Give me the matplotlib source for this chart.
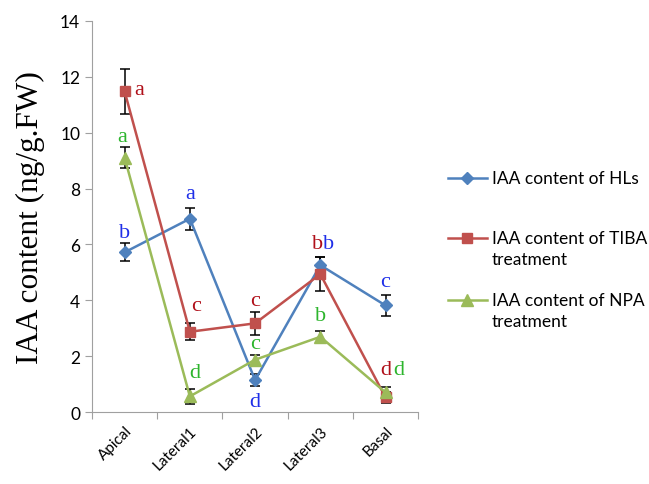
import matplotlib
matplotlib.use('Agg')
import matplotlib.pyplot as plt
from matplotlib.lines import Line2D

positions = ['Apical', 'Lateral1', 'Lateral2', 'Lateral3', 'Basal']

hls = [5.72, 6.92, 1.15, 5.26, 3.82]
hls_err = [0.32, 0.40, 0.22, 0.30, 0.39]
hls_letters = ['b', 'a', 'd', 'b', 'c']

tiba = [11.47, 2.88, 3.18, 4.94, 0.53]
tiba_err = [0.80, 0.30, 0.40, 0.60, 0.20]
tiba_letters = ['a', 'c', 'c', 'b', 'd']

npa = [9.10, 0.57, 1.88, 2.70, 0.71]
npa_err = [0.38, 0.27, 0.18, 0.20, 0.20]
npa_letters = ['a', 'd', 'c', 'b', 'd']

legend_labels = ['IAA content of HLs',
                 'IAA content of TIBA\ntreatment',
                 'IAA content of NPA\ntreatment']

# letter offsets in pixels (x, y) from the point
hls_off = [(0, 20), (0, 25), (0, -21), (8, 22), (0, 24)]
tiba_off = [(15, 2), (6, 26), (0, 23), (-3, 31), (0, 28)]
npa_off = [(-2, 21), (5, 24), (0, 16), (0, 21), (13, 23)]

fig = plt.figure(figsize=(6.49, 4.85), dpi=100)
ax = fig.add_axes([0.1418, 0.1478, 0.5025, 0.8075])

x = list(range(len(positions)))

series = [
    (hls, hls_err, hls_letters, hls_off, '#4F81BD', 'D', 6.5, '#1F2FE8'),
    (tiba, tiba_err, tiba_letters, tiba_off, '#C0504D', 's', 7.5, '#B0101A'),
    (npa, npa_err, npa_letters, npa_off, '#9BBB59', '^', 8, '#2DB52D'),
]

# legend rows: y of first text line, in pixels from the top
legend_rows = [179, 239, 301]

for (vals, err, letters, offs, col, mk, ms, tcol), lab, ry in zip(series, legend_labels, legend_rows):
    ax.errorbar(x, vals, yerr=err, fmt='none', ecolor='black', elinewidth=1.1,
                capsize=3.5, capthick=1.1, zorder=2)
    ax.plot(x, vals, color=col, marker=mk, markersize=ms, linewidth=1.8, zorder=3)
    for xi, v, t, o in zip(x, vals, letters, offs):
        ax.annotate(t, (xi, v), xytext=o, textcoords='offset pixels',
                    ha='center', va='center', color=tcol, fontsize=16,
                    family='Liberation Serif', zorder=4)
    fy = 1 - ry / 485
    fig.add_artist(Line2D([448 / 649, 487 / 649], [fy, fy], color=col,
                          linewidth=1.8, transform=fig.transFigure))
    fig.add_artist(Line2D([467 / 649], [fy], color=col, marker=mk,
                          markersize=ms, transform=fig.transFigure))
    fig.text(492 / 649, fy + 8 / 485, lab, ha='left', va='top', family='Lato',
             fontsize=12.5, linespacing=1.35)

ax.set_xlim(-0.5, len(positions) - 0.5)
ax.set_ylim(0, 14)
ax.set_yticks(range(0, 15, 2))
ax.set_xticks([i - 0.5 for i in range(len(positions) + 1)], minor=False)
ax.set_xticklabels([])
ax.set_xticks(x, minor=True)
ax.set_xticklabels(positions, minor=True, rotation=45, ha='right',
                   rotation_mode='anchor', family='Lato', fontsize=11)
ax.tick_params(axis='x', which='minor', length=0, pad=8)
ax.tick_params(axis='x', which='major', length=5, color='#A0A0A0', direction='out')
ax.tick_params(axis='y', length=5, color='#A0A0A0', direction='out', labelsize=12.5)
for lbl in ax.get_yticklabels():
    lbl.set_family('Lato')

for s in ['top', 'right']:
    ax.spines[s].set_visible(False)
for s in ['left', 'bottom']:
    ax.spines[s].set_color('#A0A0A0')

ax.set_ylabel('IAA content (ng/g.FW)', family='Liberation Serif', fontsize=22.5, labelpad=11)

fig.savefig('out.png', dpi=100)
